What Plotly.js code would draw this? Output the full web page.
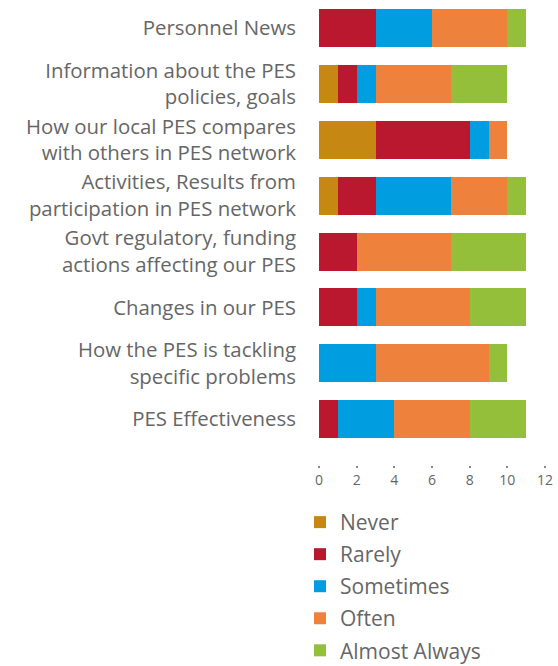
<!DOCTYPE html>
<html>
<head>
<meta charset="utf-8">
<script src="https://cdn.plot.ly/plotly-3.0.1.min.js"></script>
<style>html,body{margin:0;padding:0;background:#fff;overflow:hidden;}#chart{width:558px;height:690px;}</style>
</head>
<body>
<div id="chart"></div>
<script>
var categories = [
  "Personnel News",
  "Information about the PES<br>policies, goals",
  "How our local PES compares<br>with others in PES network",
  "Activities, Results from<br>participation in PES network",
  "Govt regulatory, funding<br>actions affecting our PES",
  "Changes in our PES",
  "How the PES is tackling<br>specific problems",
  "PES Effectiveness"
];
var never         = [0, 1, 3, 1, 0, 0, 0, 0];
var rarely        = [3, 1, 5, 2, 2, 2, 0, 1];
var sometimes     = [3, 1, 1, 4, 0, 1, 3, 3];
var often         = [4, 4, 1, 3, 5, 5, 6, 4];
var almostAlways  = [1, 3, 0, 1, 4, 3, 1, 3];
var seriesNames = ["Never", "Rarely", "Sometimes", "Often", "Almost Always"];
var seriesColors = ["#C68812", "#BA182E", "#009EE0", "#EE823D", "#93BF3B"];
var seriesValues = [never, rarely, sometimes, often, almostAlways];
var xTicks = [0, 2, 4, 6, 8, 10, 12];

var traces = seriesValues.map(function (vals, i) {
  return {
    type: "bar",
    orientation: "h",
    name: seriesNames[i],
    legendgroup: "g" + i,
    x: vals,
    y: categories,
    width: 0.68,
    marker: { color: seriesColors[i], line: { width: 0 } },
    hoverinfo: "x+name"
  };
});

var layout = {
  width: 558,
  height: 690,
  barmode: "stack",
  paper_bgcolor: "#ffffff",
  plot_bgcolor: "#ffffff",
  margin: { l: 319, r: 13, t: 0, b: 225, pad: 0 },
  font: { family: "Open Sans, sans-serif", color: "#666666" },
  xaxis: {
    range: [0, 12],
    tickvals: xTicks,
    ticktext: xTicks.map(String),
    showgrid: false,
    zeroline: false,
    showline: false,
    ticks: "outside",
    ticklen: 2,
    tickwidth: 2,
    tickcolor: "#888888",
    tickfont: { size: 14, color: "#666666" }
  },
  yaxis: {
    type: "category",
    categoryorder: "array",
    categoryarray: categories,
    range: [7.82, -0.5],
    showgrid: false,
    zeroline: false,
    showline: false,
    ticks: "",
    ticklabelstandoff: 22,
    tickfont: { size: 20.4, color: "#666666" }
  },
  showlegend: true,
  legend: {
    orientation: "v",
    traceorder: "grouped",
    tracegroupgap: 1.75,
    x: -0.084,
    xanchor: "left",
    y: -0.0795,
    yanchor: "top",
    font: { size: 21, color: "#666666" },
    bgcolor: "rgba(0,0,0,0)"
  }
};

Plotly.newPlot("chart", traces, layout, { displayModeBar: false, staticPlot: true });
</script>
</body>
</html>
